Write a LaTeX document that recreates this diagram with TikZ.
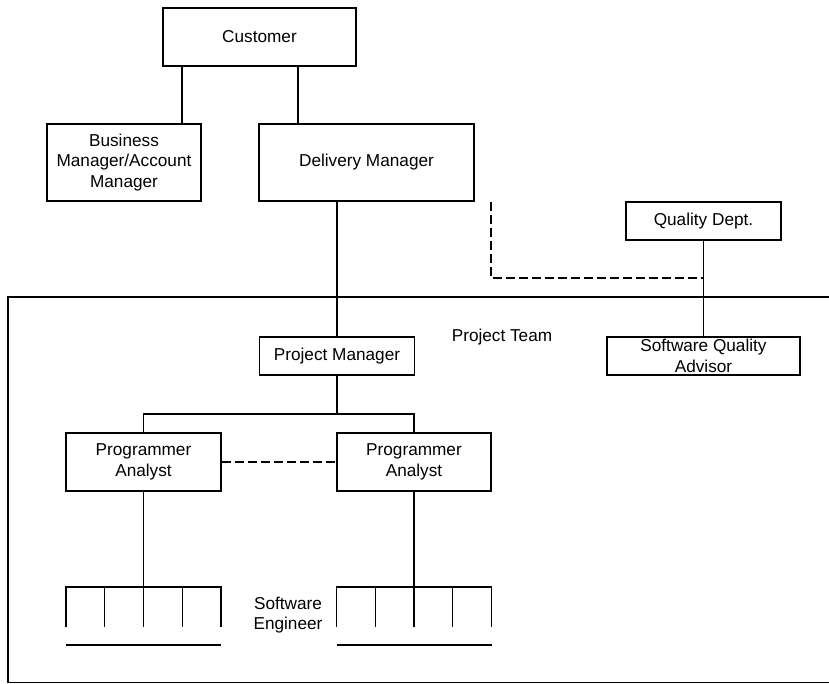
\documentclass[tikz,border=0pt]{standalone}
\usepackage{fontspec}
\setmainfont{Liberation Sans}
\begin{document}
\begin{tikzpicture}[x=1pt,y=-1pt,
  box/.style={draw,line width=1.1pt,inner sep=0pt,align=center,font=\fontsize{17.2}{20.7}\selectfont},
  txt/.style={inner sep=0pt,align=center,font=\fontsize{17.2}{20.7}\selectfont},
  solidline/.style={line width=1.3pt},
  dashline/.style={line width=2.2pt,dash pattern=on 9pt off 4pt},
  every path/.style={black}]
\useasboundingbox (0,0) rectangle (829,684);
% boxes
\node[box,minimum width=193pt,minimum height=58pt] (cust) at (259.5,37) {Customer};
\node[box,minimum width=154pt,minimum height=77pt] (bm) at (124,162.5) {Business\\Manager/Account\\Manager};
\node[box,minimum width=215pt,minimum height=77pt] (dm) at (366.5,162.5) {Delivery Manager};
\node[box,minimum width=155pt,minimum height=38pt] (qd) at (703.5,221) {Quality Dept.};
\node[box,minimum width=193pt,minimum height=38pt] (sqa) at (703.5,356) {Software Quality\\Advisor};
\node[box,minimum width=155pt,minimum height=38pt] (pm) at (337,356) {Project Manager};
\node[box,minimum width=155pt,minimum height=58pt] (pa1) at (143.5,462) {Programmer\\Analyst};
\node[box,minimum width=154pt,minimum height=58pt] (pa2) at (414,462) {Programmer\\Analyst};
\node[txt] (pt) at (502,337) {Project Team};
\node[txt] (se) at (288,615) {Software\\Engineer};
% frame
\draw[line width=1.1pt] (829,297) -- (8,297) -- (8,682.6) -- (829,682.6);
% connectors
\draw[solidline] (cust.south -| 182,0) -- (bm.north -| 182,0);
\draw[solidline] (cust.south -| 298,0) -- (dm.north -| 298,0);
\draw[solidline] (pm.north |- dm.south) -- (pm.north);
\coordinate (dj) at (491,278);
\coordinate (qj) at (703.5,278);
\draw[dashline] (dm.south -| dj) -- (dj) -- (qj);
\draw[solidline] (qd) -- (sqa);
\coordinate (bus) at (337,414);
\draw[solidline] (pm) -- (bus);
\draw[solidline] (pa1.north) |- (bus) -| (pa2.north);
\draw[dashline] (pa1) -- (pa2);
% combs
\coordinate (c1) at (143.5,587);
\coordinate (c2) at (414,587);
\draw[solidline] (pa1) -- (c1);
\draw[solidline] (pa2) -- (c2);
\foreach \cx in {143.5,414}{
  \draw[solidline] (\cx-77.5,627) -- (\cx-77.5,587) -- (\cx+77.5,587) -- (\cx+77.5,627);
  \foreach \dx in {-38.75,0,38.75}{
    \draw[solidline] (\cx+\dx,587) -- (\cx+\dx,627);
  }
  \draw[solidline] (\cx-77.5,645) -- (\cx+77.5,645);
}
\end{tikzpicture}
\end{document}
